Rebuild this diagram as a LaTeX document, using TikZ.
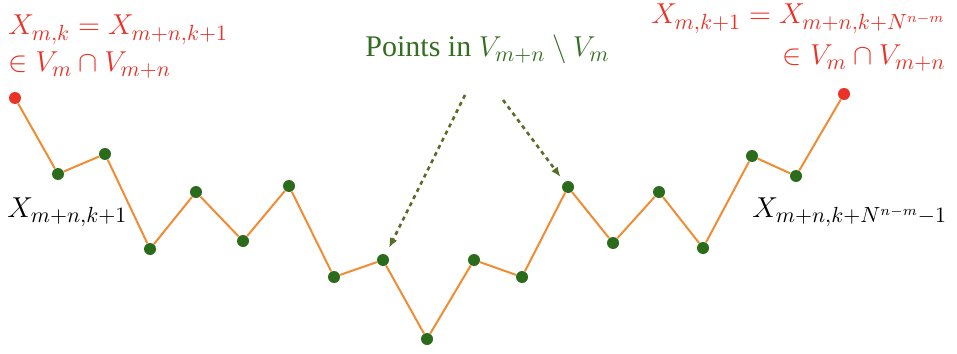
\documentclass[tikz,border=0pt]{standalone}
\usepackage{fontspec}
\setmainfont{Liberation Serif}
\usetikzlibrary{arrows.meta}
\definecolor{redpt}{RGB}{234,50,40}
\definecolor{greenpt}{RGB}{42,108,28}
\definecolor{orangeln}{RGB}{240,140,52}
\definecolor{greentxt}{RGB}{52,110,32}
\definecolor{arrowgr}{RGB}{88,110,38}
\tikzset{
  gdot/.style={circle,fill=greenpt,inner sep=0pt,minimum size=6pt},
  rdot/.style={circle,fill=redpt,inner sep=0pt,minimum size=6pt},
  pathline/.style={draw=orangeln,line width=1pt},
  ptarrow/.style={draw=arrowgr,line width=1.3pt,dash pattern=on 2pt off 2pt,-{Latex[length=5pt,width=4pt]}},
  lbl/.style={inner sep=0pt,font=\fontsize{15}{18}\selectfont}
}
\begin{document}
\begin{tikzpicture}[x=0.5pt,y=-0.5pt]
\useasboundingbox (0,0) rectangle (957,353);
% points
\node[rdot] (p0) at (15,98) {};
\node[gdot] (p1) at (58,174) {};
\node[gdot] (p2) at (105,154) {};
\node[gdot] (p3) at (150,249) {};
\node[gdot] (p4) at (196,192) {};
\node[gdot] (p5) at (243,241) {};
\node[gdot] (p6) at (289,186) {};
\node[gdot] (p7) at (334,277) {};
\node[gdot] (p8) at (383,260) {};
\node[gdot] (p9) at (427,339) {};
\node[gdot] (p10) at (474,260) {};
\node[gdot] (p11) at (522,277) {};
\node[gdot] (p12) at (568,187) {};
\node[gdot] (p13) at (613,243) {};
\node[gdot] (p14) at (659,192) {};
\node[gdot] (p15) at (703,248) {};
\node[gdot] (p16) at (752,156) {};
\node[gdot] (p17) at (796,176) {};
\node[rdot] (p18) at (844,94) {};
\draw[pathline] (p0) -- (p1) -- (p2) -- (p3) -- (p4) -- (p5) -- (p6) -- (p7) -- (p8) -- (p9)
  -- (p10) -- (p11) -- (p12) -- (p13) -- (p14) -- (p15) -- (p16) -- (p17) -- (p18);
% labels
\node[lbl,text=redpt,anchor=base west] (tl1) at (8,35) {$X_{m,k}=X_{m+n,k+1}$};
\node[lbl,text=redpt,anchor=base west] (tl2) at (8,72) {$\in V_m\cap V_{m+n}$};
\node[lbl,text=redpt,anchor=base east] (tr1) at (946,24) {$X_{m,k+1}=X_{m+n,k+N^{n-m}}$};
\node[lbl,text=redpt,anchor=base east] (tr2) at (946,65) {$\in V_m\cap V_{m+n}$};
\node[lbl,text=greentxt,anchor=base west] (mid) at (365,57) {Points in $V_{m+n}\setminus V_m$};
\node[lbl,anchor=base west] (bl) at (7,217) {$X_{m+n,k+1}$};
\node[lbl,anchor=base west] (br) at (752,217) {$X_{m+n,k+N^{n-m}-1}$};
% arrows
\coordinate (a1) at (465,95);
\coordinate (a2) at (503,100);
\draw[ptarrow,shorten >=3.5pt] (a1) -- (p8);
\draw[ptarrow,shorten >=3pt] (a2) -- (p12);
\end{tikzpicture}
\end{document}
